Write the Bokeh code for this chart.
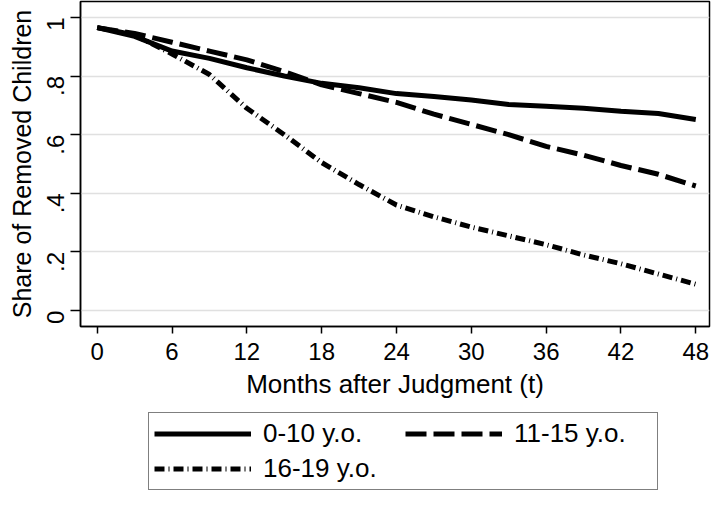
import math
from bokeh.plotting import figure
from bokeh.layouts import column
from bokeh.models import Legend, LegendItem, FixedTicker, Range1d, ColumnDataSource
from bokeh.embed import file_html
from bokeh.resources import INLINE

months = [0, 3, 6, 9, 12, 15, 18, 21, 24, 27, 30, 33, 36, 39, 42, 45, 48]
age_0_10 = [0.965, 0.935, 0.885, 0.860, 0.828, 0.800, 0.775, 0.760, 0.740,
            0.730, 0.718, 0.703, 0.697, 0.690, 0.680, 0.672, 0.652]
age_11_15 = [0.965, 0.945, 0.915, 0.885, 0.855, 0.815, 0.770, 0.740, 0.710,
             0.670, 0.635, 0.600, 0.560, 0.530, 0.495, 0.465, 0.425]
age_16_19 = [0.965, 0.940, 0.875, 0.805, 0.690, 0.600, 0.505, 0.430, 0.360,
             0.320, 0.285, 0.255, 0.225, 0.190, 0.160, 0.125, 0.090]
series_labels = ["0-10 y.o.", "11-15 y.o.", "16-19 y.o."]
x_ticks = [0, 6, 12, 18, 24, 30, 36, 42, 48]
y_ticks = [0, 0.2, 0.4, 0.6, 0.8, 1.0]
y_tick_labels = ["0", ".2", ".4", ".6", ".8", "1"]

FONT = "Liberation Sans"
styles = [dict(line_dash="solid"), dict(line_dash="21 7"), dict(line_dash="10 4 1 4")]

src = ColumnDataSource(dict(t=months, a=age_0_10, b=age_11_15, c=age_16_19))

p = figure(width=711, height=410, output_backend="svg", toolbar_location=None,
           x_range=Range1d(-1.34, 49.1), y_range=Range1d(-0.054, 1.054),
           min_border_left=80, min_border_right=2, min_border_top=1,
           min_border_bottom=84)
p.background_fill_color = "white"
p.border_fill_color = "white"
p.outline_line_color = "black"
p.outline_line_width = 1.5

for col, st in zip(["a", "b", "c"], styles):
    p.line("t", col, source=src, line_color="black", line_width=5, **st)

# axes
p.xaxis.ticker = FixedTicker(ticks=x_ticks)
p.yaxis.ticker = FixedTicker(ticks=y_ticks)
p.yaxis.major_label_overrides = {v: s for v, s in zip(y_ticks, y_tick_labels)}
p.xaxis.axis_label = "Months after Judgment (t)"
p.yaxis.axis_label = "Share of Removed Children"
for ax in (p.xaxis, p.yaxis):
    ax.axis_line_color = "black"
    ax.axis_line_width = 1.5
    ax.major_tick_line_color = "black"
    ax.major_tick_line_width = 1.5
    ax.major_tick_in = 0
    ax.minor_tick_line_color = None
    ax.major_label_text_font = FONT
    ax.major_label_text_font_size = "24px"
    ax.major_label_text_color = "black"
    ax.axis_label_text_font = FONT
    ax.axis_label_text_font_style = "normal"
    ax.axis_label_text_color = "black"
p.xaxis.axis_label_text_font_size = "26px"
p.yaxis.axis_label_text_font_size = "25px"
p.xaxis.major_tick_out = 7
p.yaxis.major_tick_out = 10
p.xaxis.major_label_standoff = 9
p.xaxis.axis_label_standoff = 6
p.yaxis.major_label_standoff = 15
p.yaxis.axis_label_standoff = 0
p.yaxis.major_label_orientation = math.pi / 2

p.xgrid.visible = False
p.ygrid.grid_line_color = "#e0e0e0"
p.ygrid.grid_line_width = 1.5

# legend figure below
p2 = figure(width=711, height=80, output_backend="svg", toolbar_location=None,
            x_range=Range1d(0, 1), y_range=Range1d(0, 1),
            x_axis_location=None, y_axis_location=None,
            min_border_left=80, min_border_right=2, min_border_top=0,
            min_border_bottom=0)
p2.outline_line_color = None
p2.grid.visible = False
p2.border_fill_color = "white"
items = []
for lab, st in zip(series_labels, styles):
    # samples live outside the visible range; only the legend shows them
    r = p2.line(x=[5, 6], y=[5, 5], line_color="black", line_width=5, **st)
    items.append(LegendItem(label=lab, renderers=[r]))

legend = Legend(items=items, orientation="horizontal", ncols=2, location=(68, 0))
legend.label_text_font = FONT
legend.label_text_font_size = "26px"
legend.label_text_color = "black"
legend.glyph_width = 97
legend.glyph_height = 25
legend.label_height = 25
legend.label_width = 138
legend.label_standoff = 12
legend.spacing = 4
legend.padding = 5
legend.margin = 0
legend.border_line_color = "black"
legend.border_line_width = 1.5
legend.background_fill_color = "white"
p2.add_layout(legend, "center")

open("out.html", "w").write(file_html(column(p, p2), INLINE))
